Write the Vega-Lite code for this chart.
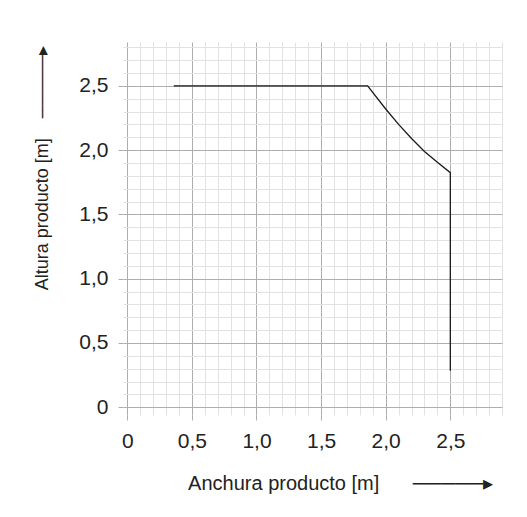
{
  "$schema": "https://vega.github.io/schema/vega-lite/v6.json",
  "width": 379,
  "height": 373,
  "autosize": {"type": "none"},
  "padding": {"left": 123, "top": 42, "right": 25, "bottom": 102},
  "background": "white",
  "config": {"view": {"stroke": null}},
  "data": {
    "values": [
      {"i": 1, "ancho": 0.36, "altura": 2.5},
      {"i": 2, "ancho": 1.86, "altura": 2.5},
      {"i": 3, "ancho": 2.0, "altura": 2.32},
      {"i": 4, "ancho": 2.1, "altura": 2.2},
      {"i": 5, "ancho": 2.2, "altura": 2.09},
      {"i": 6, "ancho": 2.3, "altura": 1.99},
      {"i": 7, "ancho": 2.4, "altura": 1.905},
      {"i": 8, "ancho": 2.5, "altura": 1.825},
      {"i": 9, "ancho": 2.5, "altura": 0.285}
    ]
  },
  "mark": {"type": "line", "color": "#1a1a1a", "strokeWidth": 1.3},
  "encoding": {
    "order": {"field": "i", "type": "quantitative"},
    "x": {
      "field": "ancho",
      "type": "quantitative",
      "scale": {"domain": [-0.033, 2.9], "nice": false, "zero": false},
      "axis": {
        "values": [0, 0.1, 0.2, 0.3, 0.4, 0.5, 0.6, 0.7, 0.8, 0.9, 1.0, 1.1, 1.2, 1.3, 1.4, 1.5, 1.6, 1.7, 1.8, 1.9, 2.0, 2.1, 2.2, 2.3, 2.4, 2.5, 2.6, 2.7, 2.8, 2.9],
        "title": "Anchura producto [m]\u00a0\u00a0\u00a0\u00a0\u00a0\u00a0\u2500\u2500\u2500\u2500\u2500\u25b8",
        "titleAnchor": "end",
        "titleAlign": "right",
        "titleX": 370,
        "titleFont": "Liberation Sans",
        "titleFontSize": 20,
        "titleFontWeight": "normal",
        "titleColor": "#222222",
        "titlePadding": 22,
        "labelFont": "Liberation Sans",
        "labelFontSize": 21,
        "labelColor": "#222222",
        "labelExpr": "round(datum.value*10) % 5 == 0 ? (datum.value == 0 ? '0' : replace(format(datum.value, '.1f'), '.', ',')) : ''",
        "labelOverlap": false,
        "labelFlush": false,
        "labelBound": false,
        "labelPadding": 10,
        "domain": false,
        "grid": true,
        "gridWidth": 1,
        "gridColor": {"condition": {"test": "round(datum.value*10) % 5 == 0", "value": "#adadad"}, "value": "#e2e2e2"},
        "ticks": true,
        "tickSize": 5,
        "tickColor": "#adadad",
        "tickOpacity": {"condition": {"test": "round(datum.value*10) % 5 == 0", "value": 1}, "value": 0}
      }
    },
    "y": {
      "field": "altura",
      "type": "quantitative",
      "scale": {"domain": [-0.06, 2.841], "nice": false, "zero": false},
      "axis": {
        "values": [0, 0.1, 0.2, 0.3, 0.4, 0.5, 0.6, 0.7, 0.8, 0.9, 1.0, 1.1, 1.2, 1.3, 1.4, 1.5, 1.6, 1.7, 1.8, 1.9, 2.0, 2.1, 2.2, 2.3, 2.4, 2.5, 2.6, 2.7, 2.8],
        "title": "Altura producto [m]\u00a0\u00a0\u00a0\u00a0\u2500\u2500\u2500\u2500\u2500\u25b8",
        "titleAnchor": "end",
        "titleAlign": "right",
        "titleY": 3,
        "titleFont": "Liberation Sans",
        "titleFontSize": 18,
        "titleFontWeight": "normal",
        "titleColor": "#222222",
        "titlePadding": 27,
        "labelFont": "Liberation Sans",
        "labelFontSize": 21,
        "labelColor": "#222222",
        "labelExpr": "round(datum.value*10) % 5 == 0 ? (datum.value == 0 ? '0' : replace(format(datum.value, '.1f'), '.', ',')) : ''",
        "labelOverlap": false,
        "labelFlush": false,
        "labelBound": false,
        "labelPadding": 10,
        "domain": false,
        "grid": true,
        "gridWidth": 1,
        "gridColor": {"condition": {"test": "round(datum.value*10) % 5 == 0", "value": "#adadad"}, "value": "#e2e2e2"},
        "ticks": true,
        "tickSize": 5,
        "tickColor": "#adadad",
        "tickOpacity": {"condition": {"test": "round(datum.value*10) % 5 == 0", "value": 1}, "value": 0}
      }
    }
  }
}
